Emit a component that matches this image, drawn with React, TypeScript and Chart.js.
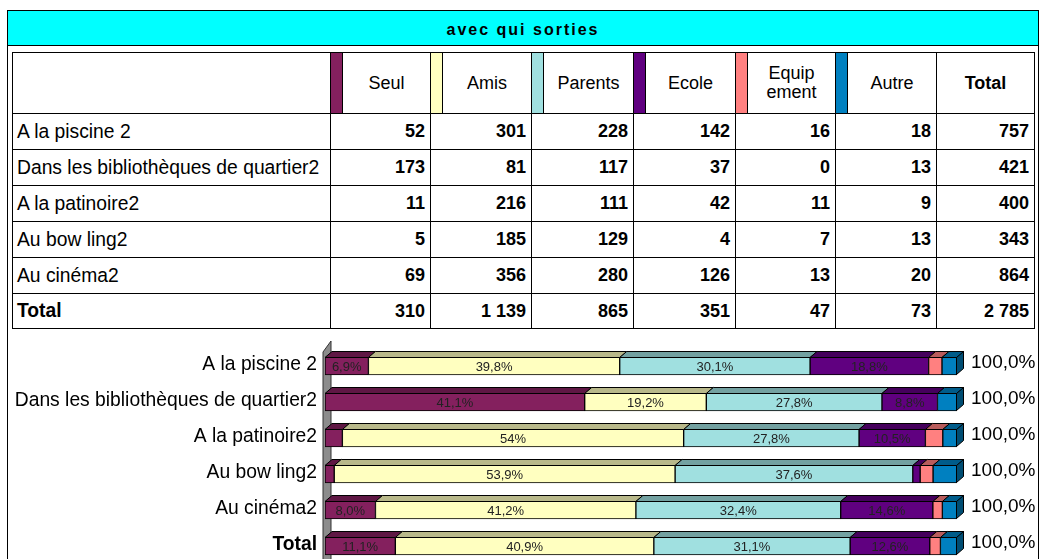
import React, { useEffect, useRef } from 'react';
import { Chart, registerables } from 'chart.js';

Chart.register(...registerables);

const FONT = "'Liberation Sans', Arial, sans-serif";

const title = 'avec qui sorties';
const categories = [
  'A la piscine 2',
  'Dans les bibliothèques de quartier2',
  'A la patinoire2',
  'Au bow ling2',
  'Au cinéma2',
  'Total',
];
const seriesNames = ['Seul', 'Amis', 'Parents', 'Ecole', 'Equip\nement', 'Autre'];
const seul = [52, 173, 11, 5, 69, 310];
const amis = [301, 81, 216, 185, 356, 1139];
const parents = [228, 117, 111, 129, 280, 865];
const ecole = [142, 37, 42, 4, 126, 351];
const equipement = [16, 0, 11, 7, 13, 47];
const autre = [18, 13, 9, 13, 20, 73];
const rowTotals = [757, 421, 400, 343, 864, 2785];

// percentage labels as printed inside the bars
const seulLabels = ['6,9%', '41,1%', '', '', '8,0%', '11,1%'];
const amisLabels = ['39,8%', '19,2%', '54%', '53,9%', '41,2%', '40,9%'];
const parentsLabels = ['30,1%', '27,8%', '27,8%', '37,6%', '32,4%', '31,1%'];
const ecoleLabels = ['18,8%', '8,8%', '10,5%', '', '14,6%', '12,6%'];
const equipLabels = ['', '', '', '', '', ''];
const autreLabels = ['', '', '', '', '', ''];
const endLabels = ['100,0%', '100,0%', '100,0%', '100,0%', '100,0%', '100,0%'];

const seriesColors = ['#84205E', '#FFFFC0', '#A0E0E0', '#600080', '#FF8080', '#0080C0'];

const seriesValues = [seul, amis, parents, ecole, equipement, autre];
const seriesLabels = [seulLabels, amisLabels, parentsLabels, ecoleLabels, equipLabels, autreLabels];

// layout
const colX = [12, 330, 430, 531, 633, 735, 835, 936, 1034];
const rowY = [52, 113, 149, 185, 221, 257, 293, 328];

function fmt(n: number) {
  return String(n).replace(/\B(?=(\d{3})+(?!\d))/g, ' ');
}

function shade(hex: string, f: number) {
  const r = Math.round(parseInt(hex.slice(1, 3), 16) * f);
  const g = Math.round(parseInt(hex.slice(3, 5), 16) * f);
  const b = Math.round(parseInt(hex.slice(5, 7), 16) * f);
  return `rgb(${r},${g},${b})`;
}

const DX = 7;
const DY = 6;

const threeD = {
  id: 'threeD',
  beforeDatasetsDraw(chart: any) {
    const { ctx, chartArea } = chart;
    const L = chartArea.left;
    const T = chartArea.top;
    ctx.save();
    ctx.beginPath();
    ctx.moveTo(L - 2, T + 4);
    ctx.lineTo(L + 6, T - 7);
    ctx.lineTo(L + 6, chart.height + 20);
    ctx.lineTo(L - 2, chart.height + 20);
    ctx.closePath();
    ctx.fillStyle = '#8c8c8c';
    ctx.fill();
    ctx.strokeStyle = '#333';
    ctx.lineWidth = 1;
    ctx.stroke();
    ctx.restore();
  },
  afterDatasetsDraw(chart: any) {
    const { ctx } = chart;
    const nds = chart.data.datasets.length;
    ctx.save();
    ctx.lineWidth = 1;
    ctx.strokeStyle = '#000';
    for (let i = 0; i < categories.length; i++) {
      let maxEnd = -1;
      let lastEl: any = null;
      let lastK = 0;
      for (let k = 0; k < nds; k++) {
        const el = chart.getDatasetMeta(k).data[i];
        if (!el) continue;
        const x0 = Math.min(el.base, el.x);
        const x1 = Math.max(el.base, el.x);
        const t = el.y - el.height / 2;
        if (x1 - x0 >= 0.5) {
          ctx.beginPath();
          ctx.moveTo(x0, t + 0.5);
          ctx.lineTo(x1, t + 0.5);
          ctx.lineTo(x1 + DX, t + 0.5 - DY);
          ctx.lineTo(x0 + DX, t + 0.5 - DY);
          ctx.closePath();
          ctx.fillStyle = shade(seriesColors[k], 0.72);
          ctx.fill();
          ctx.stroke();
          if (x1 > maxEnd) {
            maxEnd = x1;
            lastEl = el;
            lastK = k;
          }
        }
      }
      if (lastEl) {
        const t = lastEl.y - lastEl.height / 2;
        const b = lastEl.y + lastEl.height / 2;
        const x1 = maxEnd - 0.5;
        ctx.beginPath();
        ctx.moveTo(x1, t + 0.5);
        ctx.lineTo(x1 + DX, t + 0.5 - DY);
        ctx.lineTo(x1 + DX, b - 0.5 - DY);
        ctx.lineTo(x1, b - 0.5);
        ctx.closePath();
        ctx.fillStyle = shade(seriesColors[lastK], 0.6);
        ctx.fill();
        ctx.stroke();
        ctx.fillStyle = '#000';
        ctx.font = `19px ${FONT}`;
        ctx.textAlign = 'left';
        ctx.textBaseline = 'middle';
        ctx.fillText(endLabels[i], chart.chartArea.right + 14, lastEl.y - 3);
      }
      // value labels
      ctx.font = `13px ${FONT}`;
      ctx.textAlign = 'center';
      ctx.textBaseline = 'middle';
      ctx.fillStyle = '#222';
      for (let k = 0; k < nds; k++) {
        const el = chart.getDatasetMeta(k).data[i];
        const lbl = seriesLabels[k][i];
        if (!el || !lbl) continue;
        ctx.fillText(lbl, (el.base + el.x) / 2, el.y + 1);
      }
    }
    ctx.restore();
  },
};

function BarChart() {
  const ref = useRef<HTMLCanvasElement>(null);
  useEffect(() => {
    if (!ref.current) return;
    const chart = new Chart(ref.current, {
      type: 'bar',
      data: {
        labels: categories,
        datasets: seriesValues.map((vals, k) => ({
          label: seriesNames[k],
          data: vals.map((v, i) => (v / rowTotals[i]) * 100),
          backgroundColor: seriesColors[k],
          borderColor: '#000',
          borderWidth: 1,
          borderSkipped: false,
          barThickness: 18,
        })),
      },
      options: {
        indexAxis: 'y',
        responsive: false,
        animation: false,
        layout: { padding: { top: 18, bottom: 6, left: 0, right: 83 } },
        plugins: { legend: { display: false }, tooltip: { enabled: false } },
        scales: {
          x: { stacked: true, min: 0, max: 100, display: false },
          y: {
            stacked: true,
            grid: { display: false, drawTicks: false },
            border: { display: false },
            ticks: {
              color: '#000',
              padding: 8,
              labelOffset: -1,
              font: (c: any) => ({ family: FONT, size: 19.3, weight: c.index === 5 ? 'bold' : 'normal' }),
            },
            afterFit: (s: any) => {
              s.width = 325;
              s.paddingTop = 0;
              s.paddingBottom = 0;
            },
          },
        },
      } as any,
      plugins: [threeD],
    });
    return () => chart.destroy();
  }, []);
  return (
    <canvas
      ref={ref}
      width={1040}
      height={240}
      style={{ position: 'absolute', left: 0, top: 330, width: 1040, height: 240 }}
    />
  );
}

export default function App() {
  const lines: React.ReactNode[] = [];
  rowY.forEach((y, i) =>
    lines.push(
      <div key={'h' + i} style={{ position: 'absolute', left: colX[0], top: y, width: colX[8] - colX[0] + 1, height: 1, background: '#000' }} />
    )
  );
  colX.forEach((x, i) =>
    lines.push(
      <div key={'v' + i} style={{ position: 'absolute', left: x, top: rowY[0], width: 1, height: rowY[7] - rowY[0] + 1, background: '#000' }} />
    )
  );

  const cells: React.ReactNode[] = [];
  // header
  seriesNames.forEach((name, k) => {
    const x = colX[k + 1];
    const w = colX[k + 2] - x;
    cells.push(
      <div key={'s' + k} style={{ position: 'absolute', left: x + 1, top: rowY[0] + 1, width: 11, height: rowY[1] - rowY[0] - 1, background: seriesColors[k], borderRight: '1px solid #000' }} />
    );
    cells.push(
      <div key={'hn' + k} style={{ position: 'absolute', left: x + 13, top: rowY[0] + 1, width: w - 13, height: rowY[1] - rowY[0] - 1, display: 'flex', alignItems: 'center', justifyContent: 'center', textAlign: 'center', fontSize: 18, lineHeight: '19px', whiteSpace: 'pre-line' }}>
        {name}
      </div>
    );
  });
  cells.push(
    <div key="htot" style={{ position: 'absolute', left: colX[7] + 1, top: rowY[0] + 1, width: colX[8] - colX[7] - 1, height: rowY[1] - rowY[0] - 1, display: 'flex', alignItems: 'center', justifyContent: 'center', fontSize: 18, fontWeight: 'bold' }}>
      Total
    </div>
  );
  categories.forEach((cat, i) => {
    const top = rowY[i + 1] + 1;
    const h = rowY[i + 2] - rowY[i + 1] - 1;
    cells.push(
      <div key={'c' + i} style={{ position: 'absolute', left: colX[0] + 1, top, width: colX[1] - colX[0] - 1, height: h, display: 'flex', alignItems: 'center', paddingLeft: 4, boxSizing: 'border-box', fontSize: 19.3, fontWeight: i === 5 ? 'bold' : 'normal', whiteSpace: 'nowrap' }}>
        {cat}
      </div>
    );
    const vals = [...seriesValues.map((s) => s[i]), rowTotals[i]];
    vals.forEach((v, k) => {
      cells.push(
        <div key={'n' + i + '_' + k} style={{ position: 'absolute', left: colX[k + 1] + 1, top, width: colX[k + 2] - colX[k + 1] - 1, height: h, display: 'flex', alignItems: 'center', justifyContent: 'flex-end', paddingRight: 5, boxSizing: 'border-box', fontSize: 18, fontWeight: 'bold' }}>
          {fmt(v)}
        </div>
      );
    });
  });

  return (
    <div style={{ position: 'absolute', left: 0, top: 0, width: 1040, height: 559, overflow: 'hidden', background: '#fff', fontFamily: FONT, color: '#000' }}>
      <div style={{ position: 'absolute', left: 7, top: 10, width: 1032, height: 600, border: '1px solid #000', boxSizing: 'border-box' }} />
      <div style={{ position: 'absolute', left: 8, top: 11, width: 1030, height: 35, background: '#00FFFF', borderBottom: '1px solid #000', boxSizing: 'border-box', display: 'flex', alignItems: 'center', justifyContent: 'center', paddingTop: 3, fontWeight: 'bold', fontSize: 16, letterSpacing: 2 }}>
        {title}
      </div>
      {lines}
      {cells}
      <BarChart />
    </div>
  );
}
